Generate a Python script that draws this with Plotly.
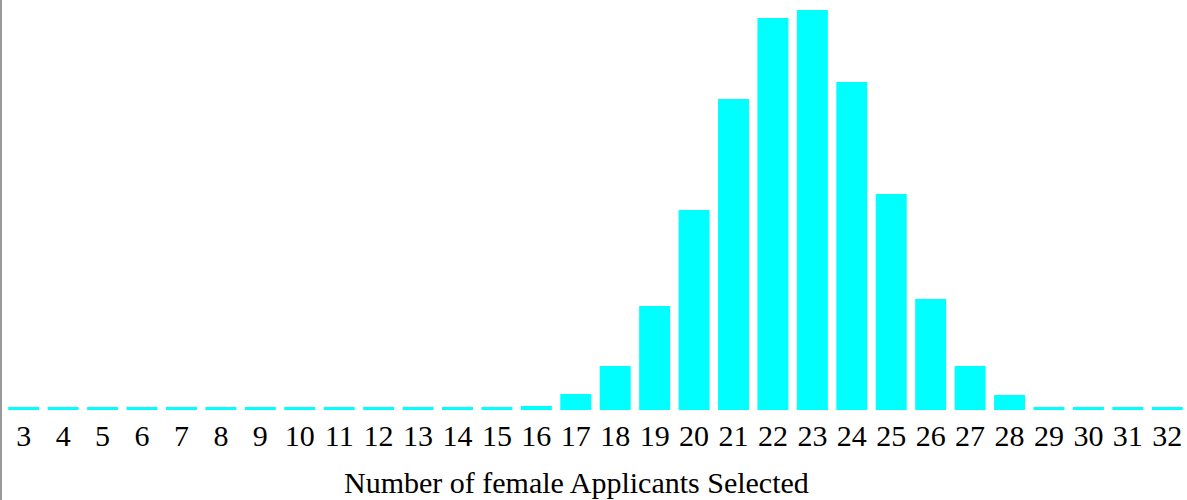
import plotly.graph_objects as go

selected = [str(n) for n in range(3, 33)]
frequency = [3, 3, 3, 3, 3, 3, 3, 3, 3, 3, 3, 3, 3, 4, 16, 44, 104, 200, 311, 392,
             400, 328, 216, 111, 44, 15, 3, 3, 3, 3]
x_title = "Number of female Applicants Selected"

W, H = 1187, 500
ML, MR, MT, MB = 4, 0, 10, 90
PW, PH = W - ML - MR, H - MT - MB

fig = go.Figure(go.Bar(
    x=selected, y=frequency,
    marker=dict(color="#00FFFF", line=dict(width=0)),
    hoverinfo="x+y",
))

fig.update_layout(
    width=W, height=H,
    margin=dict(l=ML, r=MR, t=MT, b=MB, pad=0),
    paper_bgcolor="white", plot_bgcolor="white",
    bargap=0.214,
    showlegend=False,
    font=dict(family="Liberation Serif, Times New Roman, serif", color="black", size=30),
    xaxis=dict(
        type="category",
        showgrid=False, zeroline=False, showline=False,
        ticks="", tickfont=dict(size=30), ticklabelstandoff=5,
    ),
    yaxis=dict(
        range=[0, max(frequency)],
        showgrid=False, zeroline=False, showline=False,
        showticklabels=False, ticks="",
    ),
    annotations=[dict(
        text=x_title, xref="paper", yref="paper",
        x=(576.5 - ML) / PW, y=-72 / PH, xanchor="center", yanchor="middle",
        showarrow=False, font=dict(size=30),
    )],
    shapes=[dict(
        type="line", xref="paper", yref="paper",
        x0=-3 / PW, x1=-3 / PW,
        y0=-MB / PH, y1=1 + MT / PH,
        line=dict(color="#999999", width=2),
    )],
)

fig.write_html(
    "out.html",
    config={"displayModeBar": False},
    post_script="document.body.style.margin='0';document.body.style.overflow='hidden';",
)
